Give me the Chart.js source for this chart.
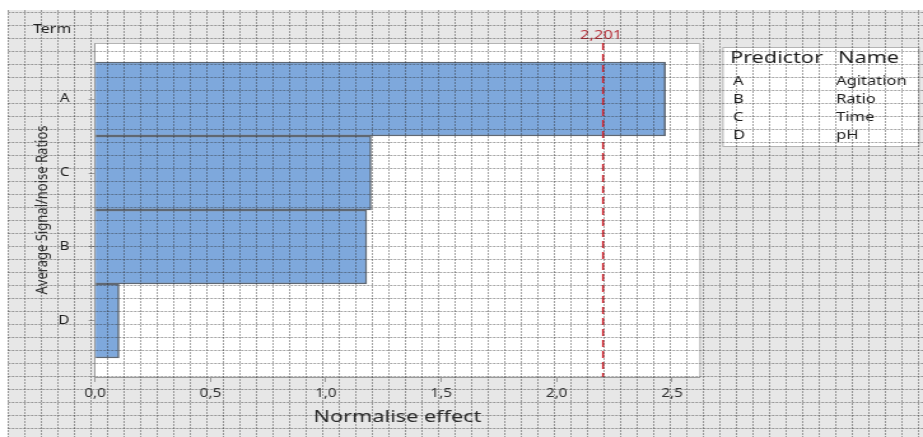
<!DOCTYPE html>
<html>
<head>
<meta charset="utf-8">
<script src="https://cdn.jsdelivr.net/npm/chart.js@4.4.1/dist/chart.umd.min.js"></script>
<style>
  html, body { margin: 0; padding: 0; background: #ffffff; }
  #wrap { width: 923px; height: 437px; }
</style>
</head>
<body>
<div id="wrap">
  <!-- the original image is stretched sideways (square graph paper -> 16.5 x 13 px),
       so the canvas is drawn narrower and widened by css -->
  <canvas id="chart" width="725" height="437" style="width:923px;height:437px"></canvas>
</div>
<script>
// Pareto chart data
const terms = ["A", "C", "B", "D"];
const effects = [2.471, 1.196, 1.177, 0.104];
const xTickValues = [0, 0.5, 1.0, 1.5, 2.0, 2.5];
const criticalValue = 2.201;
const predictors = ["A", "B", "C", "D"];
const predictorNames = ["Agitation", "Ratio", "Time", "pH"];

const fontFamily = "'Noto Sans', 'Open Sans', sans-serif";
const SX = 923 / 725;          // horizontal stretch of the page
const h = v => v / SX;         // page x -> canvas x

function fmtComma(v, digits) {
  return v.toFixed(digits).replace(".", ",");
}

const paperPlugin = {
  id: "paper",
  beforeDraw(chart) {
    const ctx = chart.ctx;
    const a = chart.chartArea;
    ctx.save();
    ctx.fillStyle = "#ffffff";
    ctx.fillRect(0, 0, chart.width, chart.height);
    ctx.fillStyle = "#e7e7e7";
    ctx.fillRect(h(8), 10, chart.width, chart.height - 10);
    ctx.fillStyle = "#ffffff";
    ctx.fillRect(a.left, a.top, a.right - a.left, a.bottom - a.top);
    ctx.restore();
  },
  afterDatasetsDraw(chart) {
    const ctx = chart.ctx;
    const a = chart.chartArea;
    const x = chart.scales.x.getPixelForValue(criticalValue);
    ctx.save();
    // frame top/right
    ctx.strokeStyle = "#b4b4b4";
    ctx.lineWidth = 1;
    ctx.beginPath();
    ctx.moveTo(a.left, a.top + 0.5);
    ctx.lineTo(a.right, a.top + 0.5);
    ctx.lineTo(a.right, a.bottom);
    ctx.stroke();
    // reference line
    ctx.strokeStyle = "#d22a35";
    ctx.lineWidth = 1.6;
    ctx.setLineDash([7, 4]);
    ctx.beginPath();
    ctx.moveTo(x, a.top);
    ctx.lineTo(x, a.bottom);
    ctx.stroke();
    ctx.setLineDash([]);
    ctx.fillStyle = "#b8323c";
    ctx.font = "13px " + fontFamily;
    ctx.textAlign = "center";
    ctx.textBaseline = "middle";
    ctx.fillText(fmtComma(criticalValue, 3), x - 1.5, 35);
    ctx.restore();
  },
  afterDraw(chart) {
    const ctx = chart.ctx;
    ctx.save();
    // "Term" header
    ctx.fillStyle = "#222222";
    ctx.font = "12.5px " + fontFamily;
    ctx.textAlign = "left";
    ctx.textBaseline = "middle";
    ctx.fillText("Term", h(33), 29);

    // predictor table
    const bx = h(723), by = 47, bw = h(919) - h(723), bh = 99;
    ctx.fillStyle = "#ffffff";
    ctx.fillRect(bx, by, bw, bh);
    ctx.strokeStyle = "#b4b4b4";
    ctx.lineWidth = 1;
    ctx.strokeRect(bx, by + 0.5, bw, bh);
    ctx.fillStyle = "#1e1e1e";
    ctx.font = "17px " + fontFamily;
    ctx.fillText("Predictor", h(730), 58);
    ctx.fillText("Name", h(838), 58);
    ctx.font = "13px " + fontFamily;
    predictors.forEach((p, i) => {
      const y = 81 + i * 18;
      ctx.fillText(p, h(733), y);
      ctx.fillText(predictorNames[i], h(836), y);
    });

    // graph paper overlay
    ctx.strokeStyle = "rgba(40,40,40,0.42)";
    ctx.lineWidth = 1;
    ctx.setLineDash([2, 1]);
    ctx.beginPath();
    for (let gx = 6.5; gx < chart.width; gx += 13) {
      ctx.moveTo(gx, 10);
      ctx.lineTo(gx, chart.height);
    }
    for (let gy = 12.5; gy < chart.height; gy += 13) {
      ctx.moveTo(h(8), gy);
      ctx.lineTo(chart.width, gy);
    }
    ctx.stroke();
    ctx.restore();
  }
};

const config = {
  type: "bar",
  data: {
    datasets: [{
      label: "Effect",
      data: terms.map((t, i) => ({ x: effects[i], y: i })),
      backgroundColor: "#7ea8dc",
      borderColor: "#5f6873",
      borderWidth: 1.5,
      categoryPercentage: 1.0,
      barPercentage: 1.0
    }]
  },
  options: {
    indexAxis: "y",
    responsive: false,
    animation: false,
    layout: { padding: { top: 43, right: 725 - h(700), left: 0, bottom: 0 } },
    plugins: {
      legend: { display: false },
      tooltip: { enabled: false }
    },
    scales: {
      x: {
        type: "linear",
        min: 0,
        max: 2.621,
        afterBuildTicks(scale) {
          scale.ticks = xTickValues.map(v => ({ value: v }));
        },
        afterFit(scale) { scale.height = 60; },
        grid: { drawOnChartArea: false, drawTicks: true, tickLength: 5, tickColor: "#9a9a9a" },
        border: { display: true, color: "#9a9a9a" },
        ticks: {
          padding: 4,
          color: "#333333",
          font: { family: fontFamily, size: 12 },
          callback: v => fmtComma(v, 1)
        },
        title: {
          display: true,
          text: "Normalise effect",
          color: "#2a2a2a",
          font: { family: fontFamily, size: 17 },
          padding: { top: 0, bottom: 10 }
        }
      },
      y: {
        type: "linear",
        reverse: true,
        offset: false,
        min: -0.757,
        max: 3.757,
        afterBuildTicks(scale) {
          scale.ticks = terms.map((t, i) => ({ value: i }));
        },
        afterFit(scale) { scale.width = h(95); },
        grid: { offset: false, drawOnChartArea: false, drawTicks: true, tickLength: 5, tickColor: "#9a9a9a" },
        border: { display: true, color: "#9a9a9a" },
        ticks: {
          padding: 15,
          color: "#222222",
          font: { family: fontFamily, size: 12 },
          callback: v => terms[v]
        },
        title: {
          display: true,
          text: "Average Signal/noise Ratios",
          color: "#333333",
          font: { family: fontFamily, size: 13 },
          padding: { top: 25, bottom: 0 }
        }
      }
    }
  },
  plugins: [paperPlugin]
};

new Chart("chart", config);
</script>
</body>
</html>
